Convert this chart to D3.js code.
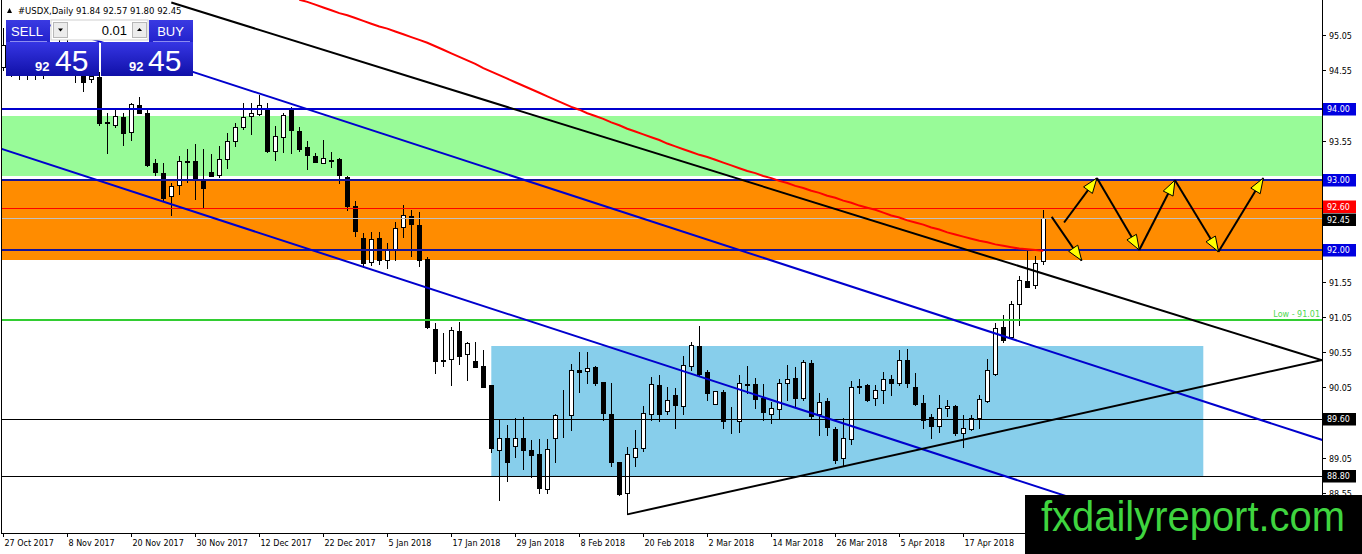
<!DOCTYPE html>
<html><head><meta charset="utf-8">
<script src="https://cdn.jsdelivr.net/npm/d3@7"></script>
<style>html,body{margin:0;padding:0;background:#fff;overflow:hidden}</style>
</head><body><svg id="c" width="1362" height="554"></svg>
<script>
// ---------------- DATA ----------------
const symbolTitle = "#USDX,Daily";
const lastQuote = [91.84, 92.57, 91.80, 92.45];
const lotSize = "0.01";

const open = [94.59,94.90,94.55,94.56,94.66,94.60,94.90,94.78,94.90,94.92,
94.47,94.43,94.46,93.80,93.78,93.88,93.68,94.06,93.95,93.23,
93.09,92.76,92.92,93.25,93.26,92.99,93.10,93.07,93.29,93.55,
93.75,93.90,93.93,94.02,93.40,93.60,94.00,93.69,93.46,93.33,
93.24,93.265,93.29,93.04,92.62,92.17,91.83,92.17,91.86,92.02,
92.33,92.48,92.36,91.87,90.88,90.42,90.45,90.85,90.53,90.43,
90.36,90.09,89.17,89.34,89.22,89.34,89.16,89.11,88.61,89.33,
89.64,89.66,90.30,90.29,90.34,90.13,89.68,88.99,88.56,89.07,
89.19,89.68,90.09,89.72,89.94,89.79,90.35,90.64,90.27,89.82,
89.99,89.57,89.58,90.09,90.10,89.90,89.68,89.74,90.11,90.18,
89.90,90.40,89.68,89.86,89.46,89.05,89.32,90.06,90.09,89.90,
90.01,90.17,90.11,90.44,90.05,89.83,89.63,89.51,89.76,89.79,
89.41,89.46,89.61,89.86,90.24,90.91,90.77,91.23,91.56,91.51,
91.84];
const high = [95.15,94.93,94.70,94.79,94.78,95.08,94.95,95.00,95.02,94.95,
94.62,94.68,94.52,93.94,93.99,93.94,94.09,94.17,94.00,93.29,
93.23,92.95,93.33,93.43,93.50,93.43,93.36,93.48,93.66,93.80,
94.09,94.08,94.20,94.08,93.76,93.95,94.03,93.74,93.54,93.37,
93.56,93.39,93.31,93.05,92.69,92.24,92.26,92.25,92.10,92.40,
92.64,92.57,92.54,91.90,90.96,90.82,90.91,90.98,90.70,90.69,
90.58,90.09,89.59,89.52,89.61,89.63,89.31,89.32,89.32,89.68,
90.02,90.39,90.56,90.55,90.35,90.13,90.11,88.99,89.21,89.44,
89.79,90.20,90.23,90.06,90.04,90.50,90.70,90.92,90.30,90.00,
90.01,89.77,90.23,90.36,90.18,90.10,89.85,90.17,90.37,90.34,
90.44,90.44,89.97,89.90,89.49,89.61,90.14,90.17,90.10,90.09,
90.27,90.23,90.58,90.59,90.26,89.94,89.68,89.95,89.87,89.80,
89.66,89.66,89.94,90.46,90.97,91.08,91.27,91.63,92.01,91.91,
92.57];
const low = [94.55,94.47,94.43,94.42,94.42,94.44,94.70,94.73,94.75,94.39,
94.25,94.38,93.78,93.38,93.75,93.49,93.56,93.94,93.19,93.06,
92.71,92.50,92.80,92.97,92.72,92.61,93.05,93.03,93.16,93.48,
93.72,93.65,93.92,93.39,93.27,93.39,93.37,93.41,93.15,93.25,
93.23,93.18,92.95,92.57,92.20,91.76,91.79,91.80,91.75,91.86,
92.19,91.91,91.77,90.90,90.26,90.36,90.09,90.39,90.16,90.34,
90.05,89.14,88.45,88.73,89.07,88.90,88.78,88.55,88.56,89.00,
89.35,89.45,89.99,90.11,90.09,89.59,88.93,88.53,88.25,88.94,
89.15,89.59,89.57,89.68,89.47,89.68,90.30,90.23,89.87,89.81,
89.48,89.40,89.42,89.97,89.76,89.59,89.55,89.61,89.87,89.78,
89.87,89.61,89.38,89.38,88.98,88.94,89.25,89.97,89.86,89.80,
89.83,89.94,90.09,90.06,89.80,89.47,89.34,89.42,89.65,89.38,
89.21,89.44,89.47,89.85,90.23,90.70,90.75,90.94,91.48,91.46,
91.80];
const close = [94.91,94.54,94.56,94.66,94.60,94.90,94.78,94.90,94.92,94.48,
94.38,94.47,93.80,93.81,93.90,93.66,94.07,93.95,93.21,93.10,
92.74,92.91,93.26,93.26,92.99,92.88,93.05,93.29,93.55,93.75,
93.88,93.94,94.05,93.41,93.61,93.92,93.70,93.43,93.35,93.25,
93.30,93.27,93.07,92.62,92.27,91.82,92.15,91.86,92.01,92.31,
92.50,92.37,91.86,90.91,90.43,90.44,90.87,90.50,90.68,90.34,
90.05,89.19,89.33,89.00,89.34,89.17,89.09,88.62,89.18,89.66,
89.65,90.30,90.27,90.32,90.11,89.69,89.00,88.54,89.10,89.19,
89.69,90.10,89.68,89.87,89.80,90.37,90.65,90.24,89.97,90.00,
89.57,89.58,90.11,90.10,89.89,89.70,89.76,90.12,90.17,89.90,
90.41,89.64,89.84,89.49,89.02,89.33,90.06,90.07,89.87,90.02,
90.17,90.12,90.44,90.12,89.82,89.59,89.51,89.76,89.79,89.40,
89.48,89.61,89.88,90.30,90.90,90.72,91.24,91.57,91.48,91.82,
92.45];

const tickIndex = [0,8,16,24,32,40,48,56,64,72,80,88,96,104,112,120,128];
const tickLabels = ["27 Oct 2017","8 Nov 2017","20 Nov 2017","30 Nov 2017","12 Dec 2017",
"22 Dec 2017","5 Jan 2018","17 Jan 2018","29 Jan 2018","8 Feb 2018","20 Feb 2018",
"2 Mar 2018","14 Mar 2018","26 Mar 2018","5 Apr 2018","17 Apr 2018","27 Apr 2018"];
const priceTicks = [88.55,89.05,89.55,90.05,90.55,91.05,91.55,92.05,92.55,93.05,93.55,94.05,94.55,95.05];

// moving average (starts at bar maStart)
const maStart = 37;
const maValues = [95.55,95.52,95.48,95.44,95.40,95.36,95.33,95.29,95.25,95.21,
95.17,95.14,95.10,95.06,95.02,94.98,94.94,94.89,94.84,94.79,
94.74,94.69,94.64,94.58,94.53,94.48,94.43,94.38,94.33,94.28,
94.23,94.18,94.13,94.08,94.03,93.99,93.94,93.90,93.86,93.81,
93.77,93.72,93.68,93.64,93.60,93.56,93.51,93.47,93.43,93.39,
93.35,93.32,93.28,93.24,93.20,93.16,93.12,93.09,93.05,93.02,
92.98,92.95,92.91,92.88,92.84,92.81,92.77,92.74,92.70,92.67,
92.63,92.60,92.57,92.53,92.49,92.46,92.42,92.39,92.36,92.32,
92.29,92.25,92.22,92.19,92.16,92.13,92.11,92.08,92.06,92.04,
92.02,92.01,92.00,91.99];

// horizontal levels
const levelPrices = [94.00, 93.00, 92.60, 92.45, 92.00, 91.01, 89.60, 88.80];
const levelLabels = ["94.00","93.00","92.60","92.45","92.00","","89.60","88.80"];
const lowLabel = "Low - 91.01";

// zones: [top price, bottom price, from bar, to bar]
const zoneTop = [93.90, 92.985, 90.64];
const zoneBottom = [93.05, 91.86, 88.80];
const zoneFrom = [-10, -10, 61];
const zoneTo = [200, 200, 150];

// trend lines: start [bar, price], end [bar, price]
const trendFrom = [[21, 95.51], [5, 95.218], [-1, 93.463], [78, 88.25]];
const trendTo   = [[165, 90.43], [165, 89.30], [165, 87.32], [165, 90.444]];

// projected path arrows: start [bar, price], end [bar, price]
const arrowFrom = [[131.05, 92.47],[132.6, 92.39],[136.7, 93.02],[142.0, 92.00],[146.46, 92.99],[151.9, 91.976]];
const arrowTo   = [[134.8, 91.85],[136.7, 93.02],[142.0, 92.00],[146.46, 92.99],[151.9, 91.976],[157.5, 93.02]];

const watermark = "fxdailyreport.com";

// ---------------- DRAW ----------------
const W = 1362, H = 554;
const plot = {left: 2, right: 1322, top: 0, bottom: 533};
const x = d3.scaleLinear().domain([0, 130]).range([3.3, 1043.3]);
const y = d3.scaleLinear().domain([88, 95.5]).range([532, 3.25]);

const svg = d3.select("#c");
svg.append("rect").attr("width", W).attr("height", H).attr("fill", "#fff");
const defs = svg.append("defs");
defs.append("clipPath").attr("id", "pc").append("rect")
  .attr("x", plot.left).attr("y", plot.top)
  .attr("width", plot.right - plot.left).attr("height", plot.bottom - plot.top);
const lg = defs.append("linearGradient").attr("id", "pg").attr("x1", 0).attr("y1", 0).attr("x2", 0).attr("y2", 1);
lg.append("stop").attr("offset", "0%").attr("stop-color", "#3636e4");
lg.append("stop").attr("offset", "100%").attr("stop-color", "#1010a8");
const lg2 = defs.append("linearGradient").attr("id", "pg2").attr("x1", 0).attr("y1", 0).attr("x2", 0).attr("y2", 1);
lg2.append("stop").attr("offset", "0%").attr("stop-color", "#3a3ae2");
lg2.append("stop").attr("offset", "100%").attr("stop-color", "#2222cc");

const g = svg.append("g").attr("clip-path", "url(#pc)");
const zoneColors = ["#98FB98", "#FF8C00", "#87CEEB"];
zoneTop.forEach((t, k) => {
  g.append("rect")
    .attr("x", x(zoneFrom[k])).attr("y", Math.round(y(t)))
    .attr("width", x(zoneTo[k]) - x(zoneFrom[k]))
    .attr("height", Math.round(y(zoneBottom[k])) - Math.round(y(t)))
    .attr("fill", zoneColors[k]);
});

// candles
const bars = open.map((o, i) => ({i, o, h: high[i], l: low[i], c: close[i]}));
const cg = g.append("g");
bars.forEach(b => {
  const cx = Math.round(x(b.i));
  cg.append("line").attr("x1", cx + 0.5).attr("x2", cx + 0.5)
    .attr("y1", Math.round(y(b.h))).attr("y2", Math.round(y(b.l)) + 1)
    .attr("stroke", "#000").attr("stroke-width", 1);
  const t = Math.round(y(Math.max(b.o, b.c))), bt = Math.round(y(Math.min(b.o, b.c)));
  if (b.c >= b.o) {
    cg.append("rect").attr("x", cx - 2 + 0.5).attr("y", t + 0.5)
      .attr("width", 4).attr("height", Math.max(0, bt - t))
      .attr("fill", "#fff").attr("stroke", "#000").attr("stroke-width", 1);
  } else {
    cg.append("rect").attr("x", cx - 2).attr("y", t)
      .attr("width", 5).attr("height", Math.max(1, bt - t + 1))
      .attr("fill", "#000");
  }
});

// horizontal levels
const levelColor = ["#0000CD","#14149a","#FF0000","#C0C0C0","#14149a","#32CD32","#000","#000"];
const levelWidth = [2,2,1,1,2,2,1,1];
levelPrices.forEach((p, k) => {
  const yy = levelWidth[k] === 1 ? Math.round(y(p)) + 0.5 : Math.round(y(p));
  g.append("line").attr("x1", plot.left).attr("x2", plot.right)
    .attr("y1", yy).attr("y2", yy)
    .attr("stroke", levelColor[k]).attr("stroke-width", levelWidth[k]);
});

// moving average
g.append("path").datum(maValues)
  .attr("d", d3.line().x((v, k) => x(maStart + k)).y(v => y(v)))
  .attr("fill", "none").attr("stroke", "#FF0000").attr("stroke-width", 2);

// trend lines
const trendColor = ["#000", "#0000CD", "#0000CD", "#000"];
trendFrom.forEach((a, k) => {
  const b = trendTo[k];
  g.append("line").attr("x1", x(a[0])).attr("y1", y(a[1]))
    .attr("x2", x(b[0])).attr("y2", y(b[1]))
    .attr("stroke", trendColor[k]).attr("stroke-width", 2);
});

// arrows
arrowFrom.forEach((a, k) => {
  const b = arrowTo[k];
  const x1 = x(a[0]), y1 = y(a[1]), x2 = x(b[0]), y2 = y(b[1]);
  g.append("line").attr("x1", x1).attr("y1", y1).attr("x2", x2).attr("y2", y2)
    .attr("stroke", "#000").attr("stroke-width", 2);
  const ang = Math.atan2(y2 - y1, x2 - x1);
  const L = 15, Wd = 5.5;
  const bx = x2 - L * Math.cos(ang), by = y2 - L * Math.sin(ang);
  const px = -Math.sin(ang) * Wd, py = Math.cos(ang) * Wd;
  g.append("path").attr("d", `M${x2},${y2}L${bx + px},${by + py}L${bx - px},${by - py}Z`)
    .attr("fill", "#FFFF00").attr("stroke", "#000").attr("stroke-width", 1);
});

// Low label
g.append("text").attr("x", plot.right - 2).attr("y", Math.round(y(91.01)) - 3)
  .attr("text-anchor", "end").attr("font-family", "DejaVu Sans, sans-serif")
  .attr("font-size", 8).attr("fill", "#4fd84f").text(lowLabel);

// borders & axes
svg.append("line").attr("x1", 1.5).attr("x2", 1.5).attr("y1", 0).attr("y2", plot.bottom).attr("stroke", "#000");
svg.append("line").attr("x1", plot.right + 0.5).attr("x2", plot.right + 0.5).attr("y1", 0).attr("y2", plot.bottom).attr("stroke", "#000");
svg.append("line").attr("x1", 1).attr("x2", plot.right + 1).attr("y1", plot.bottom + 0.5).attr("y2", plot.bottom + 0.5).attr("stroke", "#000");

const ax = svg.append("g").attr("font-family", "DejaVu Sans, sans-serif").attr("font-size", 8).attr("fill", "#000");
const labelledY = levelPrices.filter((p, k) => levelLabels[k]).map(p => y(p));
priceTicks.forEach(p => {
  const yy = Math.round(y(p)) + 0.5;
  ax.append("line").attr("x1", plot.right).attr("x2", plot.right + 4).attr("y1", yy).attr("y2", yy).attr("stroke", "#000");
  // tick text hidden behind a level box is skipped (the box covers it in the chart)
  if (labelledY.some(ly => Math.abs(ly - yy) < 10)) return;
  ax.append("text").attr("x", plot.right + 7).attr("y", yy + 3).text(p.toFixed(2));
});
const boxColor = ["#0000E0","#0000E0","#FF0000","#000","#0000E0","","#000","#000"];
const boxShift = [0, 0, -1.5, 1.5, 0, 0, 0, 0];
levelPrices.forEach((p, k) => {
  if (!levelLabels[k]) return;
  const yy = Math.round(y(p)) + boxShift[k];
  ax.append("rect").attr("x", plot.right + 1).attr("y", yy - 6).attr("width", 33).attr("height", 12.5).attr("fill", boxColor[k]);
  ax.append("text").attr("x", plot.right + 5).attr("y", yy + 3).attr("fill", "#fff").text(levelLabels[k]);
});
tickIndex.forEach((ti, k) => {
  const xx = Math.round(x(ti)) + 0.5;
  ax.append("line").attr("x1", xx).attr("x2", xx).attr("y1", plot.bottom).attr("y2", plot.bottom + 4).attr("stroke", "#000");
  ax.append("text").attr("x", xx + 1).attr("y", plot.bottom + 13).text(tickLabels[k]);
});

// title
svg.append("path").attr("d", "M7,13L9.5,8L12,13Z").attr("fill", "#000");
svg.append("text").attr("x", 18).attr("y", 14).attr("font-family", "DejaVu Sans, sans-serif")
  .attr("font-size", 8.5).attr("fill", "#000")
  .text(symbolTitle + "  " + lastQuote.map(v => v.toFixed(2)).join(" "));

// trading panel
const pn = svg.append("g").attr("font-family", "Liberation Sans, Arial, sans-serif");
pn.append("rect").attr("x", 6).attr("y", 20).attr("width", 44).attr("height", 22).attr("fill", "url(#pg2)");
pn.append("rect").attr("x", 149).attr("y", 20).attr("width", 44).attr("height", 22).attr("fill", "url(#pg2)");
pn.append("rect").attr("x", 51).attr("y", 20).attr("width", 97).attr("height", 20).attr("fill", "#fff").attr("stroke", "#cfcfcf");
pn.append("rect").attr("x", 53.5).attr("y", 22.5).attr("width", 14).attr("height", 15).attr("fill", "#ececec").attr("stroke", "#b8b8b8");
pn.append("rect").attr("x", 132.5).attr("y", 22.5).attr("width", 14).attr("height", 15).attr("fill", "#ececec").attr("stroke", "#b8b8b8");
pn.append("path").attr("d", "M58,28.5L63,28.5L60.5,31.5Z").attr("fill", "#000");
pn.append("path").attr("d", "M137,31L142,31L139.5,28Z").attr("fill", "#000");
pn.append("text").attr("x", 127).attr("y", 35).attr("text-anchor", "end").attr("font-size", 13).attr("fill", "#000").text(lotSize);
pn.append("text").attr("x", 27).attr("y", 36).attr("text-anchor", "middle").attr("font-size", 13).attr("fill", "#fff").text("SELL");
pn.append("text").attr("x", 170.5).attr("y", 36).attr("text-anchor", "middle").attr("font-size", 13).attr("fill", "#fff").text("BUY");
pn.append("rect").attr("x", 6).attr("y", 42).attr("width", 93).attr("height", 34).attr("fill", "url(#pg)");
pn.append("rect").attr("x", 101).attr("y", 42).attr("width", 92).attr("height", 34).attr("fill", "url(#pg)");
pn.append("line").attr("x1", 10).attr("x2", 47).attr("y1", 41.5).attr("y2", 41.5).attr("stroke", "#8c8cf0");
pn.append("line").attr("x1", 153).attr("x2", 190).attr("y1", 41.5).attr("y2", 41.5).attr("stroke", "#8c8cf0");
const bid = lastQuote[3].toFixed(2).split(".");
[[35, 55], [129, 148]].forEach(pos => {
  pn.append("text").attr("x", pos[0]).attr("y", 71).attr("font-size", 13).attr("font-weight", "bold").attr("fill", "#fff").text(bid[0]);
  pn.append("text").attr("x", pos[1]).attr("y", 70.5).attr("font-size", 30).attr("fill", "#fff").text(bid[1]);
});

// watermark
svg.append("rect").attr("x", 1025).attr("y", 495).attr("width", W - 1025).attr("height", H - 495).attr("fill", "#000");
svg.append("text").attr("x", 1041).attr("y", 531).attr("font-family", "Liberation Sans, Arial, sans-serif")
  .attr("font-size", 42).attr("fill", "#3fd43f").attr("textLength", 304).attr("lengthAdjust", "spacingAndGlyphs")
  .text(watermark);
</script>
</body></html>
